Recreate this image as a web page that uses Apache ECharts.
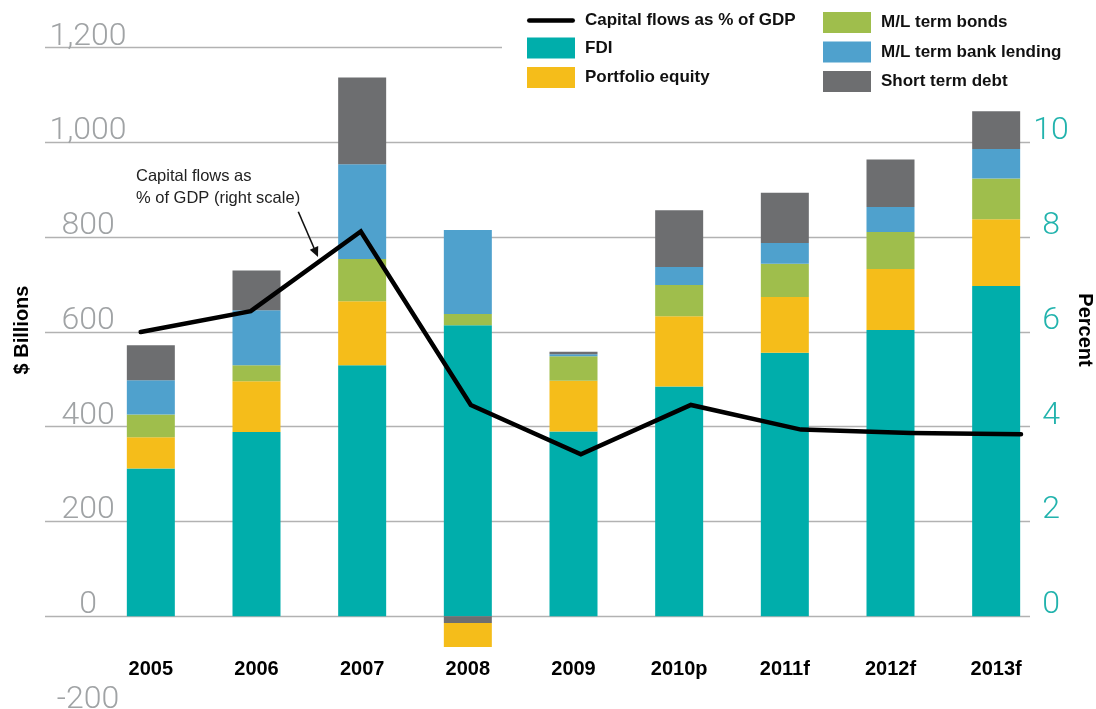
<!DOCTYPE html>
<html>
<head>
<meta charset="utf-8">
<script src="https://cdn.jsdelivr.net/npm/echarts@6/dist/echarts.min.js"></script>
<style>
html,body{margin:0;padding:0;background:#fff;overflow:hidden;}
#chart{width:1096px;height:720px;}
</style>
</head>
<body>
<div id="chart"></div>
<script>
// ---- data ----
const years = ['2005', '2006', '2007', '2008', '2009', '2010p', '2011f', '2012f', '2013f'];
const fdi = [312, 389, 530, 614, 390, 485, 556, 604, 697];
const portfolioEquity = [66, 107, 135, -51, 107, 148, 118, 129, 141];
const mlTermBonds = [48, 34, 89, 24, 52, 66, 70, 78, 86];
const mlTermBankLending = [72, 116, 200, 177, 4, 38, 44, 53, 62];
const shortTermDebt = [74, 84, 183, -14, 5, 120, 106, 100, 80];
const capitalFlowsPctGdp = [6.0, 6.44, 8.12, 4.46, 3.42, 4.46, 3.94, 3.87, 3.84];
const leftTicks = [-200, 0, 200, 400, 600, 800, 1000, 1200];
const rightTicks = [0, 2, 4, 6, 8, 10];

const C = {
  fdi: '#00aeab', eq: '#f5bd1a', bonds: '#9fbe4c', bank: '#4fa1cd', st: '#6d6e70'
};
const FONT = "'Liberation Sans', Arial, sans-serif";
const THIN = "Roboto, 'Liberation Sans', sans-serif";

const chart = echarts.init(document.getElementById('chart'));
const gridTop = 47.7, gridBottom = 9;

const stNeg = shortTermDebt.map(v => v < 0 ? v : '-');
const stPos = shortTermDebt.map(v => v >= 0 ? v : '-');

const legendText = { fontFamily: FONT, fontWeight: 'bold', fontSize: 17, color: '#111', padding: [0, 0, 0, 5] };
const lineIcon = 'path://M2.25,0 L45.75,0 A2.25,2.25 0 0 1 45.75,4.5 L2.25,4.5 A2.25,2.25 0 0 1 2.25,0 Z';

const option = {
  animation: false,
  backgroundColor: '#fff',
  grid: [
    { left: 45, right: 66, top: gridTop, bottom: gridBottom },
    { left: 98, right: 47, top: gridTop, bottom: gridBottom },
    { left: 140.7, right: 75, top: gridTop, bottom: gridBottom }
  ],
  xAxis: [
    { gridIndex: 0, type: 'value', min: 0, max: 1, show: false },
    { gridIndex: 1, type: 'category', data: years, offset: -60,
      axisLine: { show: false }, axisTick: { show: false },
      axisLabel: { color: '#000', fontFamily: FONT, fontWeight: 'bold', fontSize: 20, margin: 8 } },
    { gridIndex: 2, type: 'category', data: years, boundaryGap: false, show: false }
  ],
  yAxis: [
    { gridIndex: 0, type: 'value', min: -200, max: 1200, interval: 200, position: 'left',
      axisLine: { show: false }, axisTick: { show: false },
      splitLine: { show: true, lineStyle: { color: '#b2b2b2', width: 1.3 } },
      axisLabel: { inside: true, margin: 43, align: 'center', verticalAlign: 'bottom', lineHeight: 22,
        color: '#a0a3a5', fontFamily: THIN, fontWeight: 300, fontSize: 32,
        formatter: v => leftTicks.includes(v) ? v.toLocaleString('en-US') : '' } },
    { gridIndex: 0, type: 'value', min: -2, max: 12, interval: 2, position: 'right',
      axisLine: { show: false }, axisTick: { show: false }, splitLine: { show: false },
      axisLabel: { margin: 21, align: 'center', verticalAlign: 'bottom', lineHeight: 22,
        color: '#22b3ad', fontFamily: THIN, fontWeight: 300, fontSize: 32,
        formatter: v => rightTicks.includes(v) ? String(v) : '' } },
    { gridIndex: 1, type: 'value', min: -200, max: 1200, show: false, splitLine: { show: false } },
    { gridIndex: 2, type: 'value', min: -2, max: 12, show: false, splitLine: { show: false } }
  ],
  legend: [
    { left: 502, top: 0, orient: 'vertical', padding: [12, 40, 6, 25], backgroundColor: '#fff',
      itemWidth: 48, itemHeight: 21, itemGap: 8.5, selectedMode: false, textStyle: legendText,
      data: [{ name: 'Capital flows as % of GDP', icon: lineIcon }, { name: 'FDI', icon: 'rect' }, { name: 'Portfolio equity', icon: 'rect' }] },
    { left: 798, top: 0, orient: 'vertical', padding: [12, 20, 6, 25], backgroundColor: '#fff',
      itemWidth: 48, itemHeight: 21, itemGap: 8.5, selectedMode: false, textStyle: legendText,
      data: [{ name: 'M/L term bonds', icon: 'rect' }, { name: 'M/L term bank lending', icon: 'rect' }, { name: 'Short term debt', icon: 'rect' }] }
  ],
  series: [
    { name: 'FDI', type: 'bar', xAxisIndex: 1, yAxisIndex: 2, stack: 'flows', barWidth: 48, data: fdi, itemStyle: { color: C.fdi } },
    { name: 'Short term debt', type: 'bar', xAxisIndex: 1, yAxisIndex: 2, stack: 'flows', barWidth: 48, data: stNeg, itemStyle: { color: C.st } },
    { name: 'Portfolio equity', type: 'bar', xAxisIndex: 1, yAxisIndex: 2, stack: 'flows', barWidth: 48, data: portfolioEquity, itemStyle: { color: C.eq } },
    { name: 'M/L term bonds', type: 'bar', xAxisIndex: 1, yAxisIndex: 2, stack: 'flows', barWidth: 48, data: mlTermBonds, itemStyle: { color: C.bonds } },
    { name: 'M/L term bank lending', type: 'bar', xAxisIndex: 1, yAxisIndex: 2, stack: 'flows', barWidth: 48, data: mlTermBankLending, itemStyle: { color: C.bank } },
    { name: 'Short term debt', type: 'bar', xAxisIndex: 1, yAxisIndex: 2, stack: 'flows', barWidth: 48, data: stPos, itemStyle: { color: C.st } },
    { name: 'Capital flows as % of GDP', type: 'line', xAxisIndex: 2, yAxisIndex: 3, data: capitalFlowsPctGdp,
      symbol: 'none', z: 5, itemStyle: { color: '#000' },
      lineStyle: { color: '#000', width: 4.5, join: 'miter', cap: 'round' } }
  ],
  graphic: [
    { type: 'text', x: 22, y: 330, rotation: Math.PI / 2,
      style: { text: '$ Billions', font: 'bold 20px ' + FONT, fill: '#000', align: 'center', verticalAlign: 'middle' } },
    { type: 'text', x: 1085, y: 330, rotation: -Math.PI / 2,
      style: { text: 'Percent', font: 'bold 20px ' + FONT, fill: '#000', align: 'center', verticalAlign: 'middle' } },
    { type: 'text', x: 136, y: 165, z: 10,
      style: { text: 'Capital flows as\n% of GDP (right scale)', font: '16.5px ' + FONT, lineHeight: 22, fill: '#222' } },
    { type: 'line', z: 10, shape: { x1: 298.3, y1: 211.7, x2: 314, y2: 248 }, style: { stroke: '#111', lineWidth: 1.6 } },
    { type: 'polygon', z: 10, shape: { points: [[309.8, 249.7], [318.2, 246.1], [318, 257]] }, style: { fill: '#111' } }
  ]
};
chart.setOption(option);
</script>
</body>
</html>
